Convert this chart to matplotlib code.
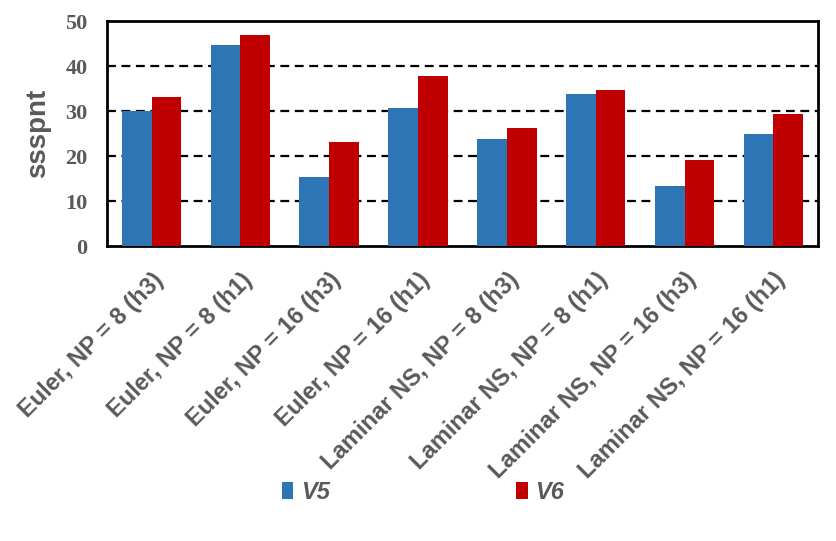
import numpy as np
import matplotlib.pyplot as plt

categories = ['Euler, NP = 8 (h3)', 'Euler, NP = 8 (h1)', 'Euler, NP = 16 (h3)',
              'Euler, NP = 16 (h1)', 'Laminar NS, NP = 8 (h3)', 'Laminar NS, NP = 8 (h1)',
              'Laminar NS, NP = 16 (h3)', 'Laminar NS, NP = 16 (h1)']
v5 = [30.0, 44.6, 15.3, 30.7, 23.9, 33.7, 13.3, 25.0]
v6 = [33.2, 46.9, 23.2, 37.8, 26.2, 34.7, 19.1, 29.3]
yticks = [0, 10, 20, 30, 40, 50]

gray = '#595959'
fig = plt.figure(figsize=(8.37, 5.41), dpi=100)
ax = fig.add_axes([0.128, 0.545, 0.849, 0.416])

x = np.arange(len(categories))
w = 0.335
ax.bar(x - w/2, v5, w, color='#2E75B6', label='V5', zorder=3)
ax.bar(x + w/2, v6, w, color='#C00000', label='V6', zorder=3)

ax.set_xlim(-0.5, len(categories) - 0.5)
ax.set_ylim(0, 50)
ax.set_yticks(yticks)
for yv in yticks[1:-1]:
    ax.axhline(yv, color='black', lw=1.6, linestyle=(0, (4, 2.5)), zorder=1)

ax.set_yticklabels([str(t) for t in yticks], fontfamily='Liberation Serif',
                   fontweight='bold', fontsize=16, color=gray)
ax.set_xticks(x)
ax.set_xticklabels(categories, rotation=45, ha='right', rotation_mode='anchor',
                   fontfamily='Liberation Sans', fontweight='bold', fontsize=17,
                   color=gray)
ax.tick_params(axis='both', length=0)
ax.tick_params(axis='y', pad=14)
ax.tick_params(axis='x', pad=16)
ax.set_ylabel('ssspnt', fontfamily='Liberation Sans', fontweight='bold',
              fontsize=20, color=gray, labelpad=10)
for s in ax.spines.values():
    s.set_linewidth(2)
    s.set_color('black')

leg = fig.legend(loc='center', bbox_to_anchor=(0.505, 0.09), ncol=2, frameon=False,
                 handlelength=0.5, handleheight=0.75, handletextpad=0.3,
                 columnspacing=7.9,
                 prop={'family': 'Liberation Sans', 'weight': 'bold',
                       'style': 'italic', 'size': 17})
for t in leg.get_texts():
    t.set_color(gray)

fig.savefig('out.png', dpi=100)
